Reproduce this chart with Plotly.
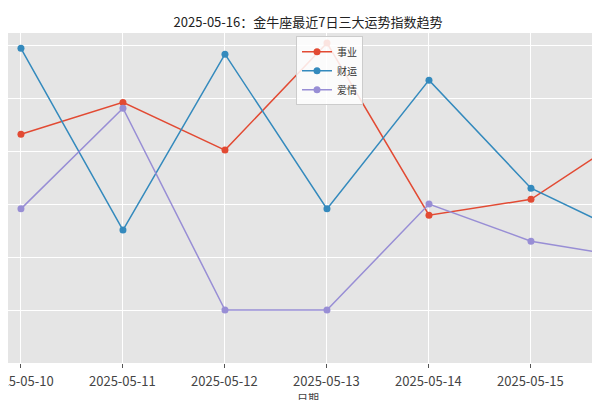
import plotly.graph_objects as go

dates = ["2025-05-10","2025-05-11","2025-05-12","2025-05-13","2025-05-14","2025-05-15","2025-05-16"]
career = [93.2, 99.2, 90.2, 110.4, 77.9, 80.9, 93.6]
wealth = [109.4, 75.1, 108.3, 79.1, 103.4, 83.0, 73.8]
love = [79.1, 98.1, 60.0, 60.0, 80.0, 73.0, 69.8]
names = ["事业", "财运", "爱情"]
colors = ["#E24A33", "#348ABD", "#988ED5"]

x = list(range(len(dates)))
fig = go.Figure()
for n, v, c in zip(names, [career, wealth, love], colors):
    fig.add_trace(go.Scatter(x=x, y=v, name=n, mode="lines+markers",
                             line=dict(color=c, width=1.5), marker=dict(size=7, color=c)))
for xi, d in zip(x, dates):
    fig.add_annotation(x=xi, y=0, xref="x", yref="paper", yanchor="top", yshift=-6,
                       text=d, showarrow=False, font=dict(size=13, color="#444"))
fig.add_annotation(x=0.5, y=0, xref="paper", yref="paper", yanchor="top", yshift=-25,
                   text="日期", showarrow=False, font=dict(size=11, color="#444"))
fig.update_layout(
    width=600, height=400,
    margin=dict(l=0, r=0, t=25, b=45, autoexpand=False),
    paper_bgcolor="white", plot_bgcolor="#E5E5E5",
    font=dict(family="Noto Sans CJK SC, DejaVu Sans", size=13, color="#333"),
    title=dict(text="2025-05-16：金牛座最近7日三大运势指数趋势", x=0.5, y=0.965,
               xanchor="center", yanchor="middle", font=dict(size=13, color="#222")),
    legend=dict(x=0.48, y=0.99, xanchor="left", yanchor="top", bgcolor="rgba(255,255,255,0.85)",
                bordercolor="#ccc", borderwidth=1, font=dict(size=10)),
    xaxis=dict(tickvals=x, range=[-0.127, 5.755], showgrid=True, showticklabels=False,
               gridcolor="white", gridwidth=1, zeroline=False, ticks="outside",
               tickcolor="#555", ticklen=4),
    yaxis=dict(range=[50, 112.3], dtick=10, showgrid=True, gridcolor="white",
               zeroline=False, showticklabels=False),
)
fig.write_html("out.html")
